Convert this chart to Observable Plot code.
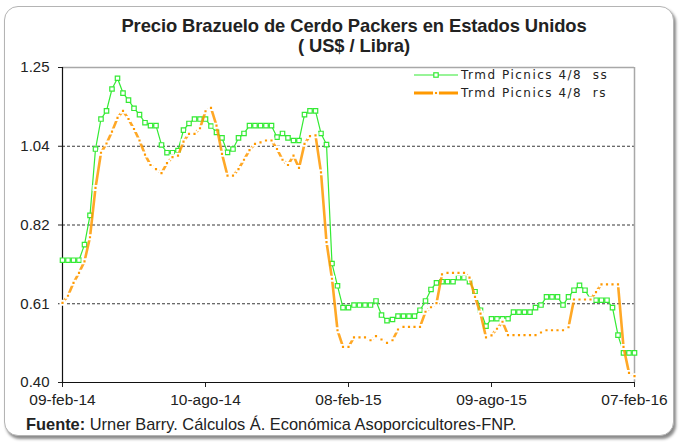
<!DOCTYPE html>
<html><head><meta charset="utf-8">
<script src="https://cdn.jsdelivr.net/npm/d3@7"></script>
<script src="https://cdn.jsdelivr.net/npm/@observablehq/plot@0.6"></script>
<style>
body{margin:0;background:#fff;}
#wrap{position:relative;width:680px;height:445px;overflow:hidden;font-family:"Liberation Sans",Arial,sans-serif;background:#fff;}
#frame{position:absolute;left:4px;top:6px;width:668px;height:428px;border:1px solid #b4b4b4;border-radius:14px;box-shadow:2px 3px 3px #8a8a8a;background:#fff;}
#title{position:absolute;left:0;width:708px;top:16px;text-align:center;font-weight:bold;font-size:18.4px;line-height:20px;color:#222;font-family:"Liberation Sans",Arial,sans-serif;letter-spacing:-0.1px;}
#chart{position:absolute;left:0;top:0;}
#legend{position:absolute;left:414px;top:66px;font-family:"DejaVu Sans",sans-serif;font-size:12px;letter-spacing:1.5px;color:#222;}
.lrow{height:18px;display:flex;align-items:center;}
.lrow svg{margin-right:3px;}
#caption{position:absolute;left:26px;top:415px;font-size:16.4px;color:#222;font-family:"Liberation Sans",Arial,sans-serif;}
</style></head>
<body>
<div id="wrap">
<div id="frame"></div>
<div id="title">Precio Brazuelo de Cerdo Packers en Estados Unidos<br>( US$ / Libra)</div>
<div id="chart"></div>
<div id="legend"></div>
<div id="caption"><b>Fuente:</b> Urner Barry. Cálculos Á. Económica Asoporcicultores-FNP.</div>
</div>
<script>
// Categories: weekly dates from 09-feb-14 to 07-feb-16
const startDate = new Date(Date.UTC(2014, 1, 9));
const endDate = new Date(Date.UTC(2016, 1, 7));
const weeks = d3.utcWeek.range(startDate, d3.utcDay.offset(endDate, 1));

const seriesNames = ["Trmd Picnics 4/8  ss", "Trmd Picnics 4/8  rs"];

const ssValues = [
  0.730, 0.730, 0.730, 0.730, 0.772, 0.851, 1.030, 1.111, 1.133, 1.192,
  1.221, 1.181, 1.162, 1.140, 1.123, 1.101, 1.093, 1.093, 1.041, 1.020,
  1.020, 1.026, 1.081, 1.099, 1.111, 1.111, 1.111, 1.092, 1.075, 1.060,
  1.021, 1.030, 1.060, 1.072, 1.093, 1.093, 1.093, 1.093, 1.093, 1.062,
  1.072, 1.060, 1.053, 1.053, 1.123, 1.133, 1.133, 1.072, 1.042, 0.721,
  0.661, 0.602, 0.602, 0.609, 0.609, 0.609, 0.609, 0.620, 0.582, 0.567,
  0.570, 0.579, 0.579, 0.579, 0.579, 0.595, 0.620, 0.651, 0.669, 0.672,
  0.672, 0.672, 0.683, 0.683, 0.672, 0.645, 0.595, 0.552, 0.572, 0.572,
  0.572, 0.572, 0.590, 0.590, 0.590, 0.590, 0.602, 0.609, 0.631, 0.631,
  0.631, 0.609, 0.631, 0.649, 0.662, 0.649, 0.625, 0.622, 0.622, 0.622,
  0.602, 0.528, 0.480, 0.480, 0.480
];
const rsValues = [
  0.615, 0.634, 0.669, 0.696, 0.727, 0.792, 0.925, 1.020, 1.045, 1.077,
  1.114, 1.133, 1.111, 1.084, 1.053, 1.015, 0.987, 0.976, 0.965, 0.992,
  1.008, 1.012, 1.050, 1.071, 1.071, 1.086, 1.132, 1.141, 1.093, 1.017,
  0.958, 0.958, 0.976, 1.001, 1.027, 1.044, 1.048, 1.053, 1.053, 1.030,
  1.001, 0.987, 1.012, 0.979, 1.044, 1.065, 1.067, 0.967, 0.779, 0.680,
  0.541, 0.496, 0.496, 0.522, 0.522, 0.522, 0.514, 0.525, 0.516, 0.507,
  0.514, 0.543, 0.550, 0.550, 0.550, 0.550, 0.591, 0.603, 0.614, 0.692,
  0.696, 0.696, 0.696, 0.696, 0.683, 0.631, 0.586, 0.522, 0.527, 0.545,
  0.564, 0.528, 0.528, 0.528, 0.528, 0.528, 0.528, 0.535, 0.541, 0.541,
  0.541, 0.541, 0.549, 0.624, 0.624, 0.624, 0.624, 0.644, 0.665, 0.665,
  0.665, 0.665, 0.496, 0.426, 0.417
];

const yTicks = [0.40, 0.6125, 0.825, 1.0375, 1.25];
const yLabels = ["0.40", "0.61", "0.82", "1.04", "1.25"];
const xTicks = [
  new Date(Date.UTC(2014, 1, 9)), new Date(Date.UTC(2014, 7, 10)),
  new Date(Date.UTC(2015, 1, 8)), new Date(Date.UTC(2015, 7, 9)),
  new Date(Date.UTC(2016, 1, 7))
];
const xLabels = ["09-feb-14", "10-ago-14", "08-feb-15", "09-ago-15", "07-feb-16"];

const colors = ["#33ea33", "#ff9900"];

const ssData = weeks.map((d, i) => ({date: d, value: ssValues[i]}));
const rsData = weeks.map((d, i) => ({date: d, value: rsValues[i]}));

const chart = Plot.plot({
  width: 680, height: 420,
  marginTop: 67, marginBottom: 38, marginLeft: 62, marginRight: 46,
  style: {fontFamily: "'Liberation Sans', Arial, sans-serif", fontSize: "15px", color: "#222", background: "transparent", overflow: "visible"},
  x: {type: "utc", domain: [startDate, endDate]},
  y: {domain: [0.40, 1.25]},
  marks: [
    Plot.gridY(yTicks.slice(1, 4), {stroke: "#222", strokeOpacity: 0.9, strokeDasharray: "3,2", strokeWidth: 1}),
    Plot.ruleY([1.25], {stroke: "#a8a8a8", strokeWidth: 1.5}),
    Plot.ruleX([endDate], {stroke: "#a8a8a8", strokeWidth: 1.5}),
    Plot.axisY({ticks: yTicks, tickFormat: d => yLabels[yTicks.indexOf(d)], tickSize: 4, tickPadding: 9, label: null, fontSize: 15}),
    Plot.axisX({ticks: xTicks, tickFormat: d => xLabels[xTicks.findIndex(t => +t === +d)], tickSize: 5, tickPadding: 6, label: null, fontSize: 15.5}),
    Plot.ruleX([startDate], {stroke: "#111", strokeWidth: 1.2}),
    Plot.ruleY([0.40], {stroke: "#111", strokeWidth: 1.2}),
    Plot.line(ssData, {x: "date", y: "value", stroke: colors[0], strokeWidth: 1.2}),
    Plot.dot(ssData, {x: "date", y: "value", symbol: "square", r: 2.5, fill: "white", stroke: colors[0], strokeWidth: 1.2}),
    Plot.line(rsData, {x: "date", y: "value", stroke: colors[1], strokeWidth: 2.6, strokeOpacity: 0.85}),
    Plot.dot(rsData, {x: "date", y: "value", symbol: "square", r: 2.3, fill: colors[1], stroke: "white", strokeWidth: 1.9})
  ]
});
document.getElementById("chart").appendChild(chart);

// Legend
const legend = document.getElementById("legend");
seriesNames.forEach((name, i) => {
  const row = document.createElement("div");
  row.className = "lrow";
  const ns = "http://www.w3.org/2000/svg";
  const s = document.createElementNS(ns, "svg");
  s.setAttribute("width", 44); s.setAttribute("height", 10);
  const ln = document.createElementNS(ns, "line");
  ln.setAttribute("x1", 0); ln.setAttribute("x2", 44); ln.setAttribute("y1", 5); ln.setAttribute("y2", 5);
  ln.setAttribute("stroke", colors[i]); ln.setAttribute("stroke-width", i === 0 ? 1.2 : 3);
  s.appendChild(ln);
  const sq = document.createElementNS(ns, "rect");
  const w = i === 0 ? 4.4 : 4;
  sq.setAttribute("x", 22 - w / 2); sq.setAttribute("y", 5 - w / 2);
  sq.setAttribute("width", w); sq.setAttribute("height", w);
  sq.setAttribute("fill", i === 0 ? "white" : colors[1]);
  sq.setAttribute("stroke", i === 0 ? colors[0] : "white");
  sq.setAttribute("stroke-width", i === 0 ? 1.2 : 1.9);
  s.appendChild(sq);
  row.appendChild(s);
  const t = document.createElement("span");
  t.textContent = name.replace(/  /g, "\u00a0 ");
  row.appendChild(t);
  legend.appendChild(row);
});
</script>
</body></html>
